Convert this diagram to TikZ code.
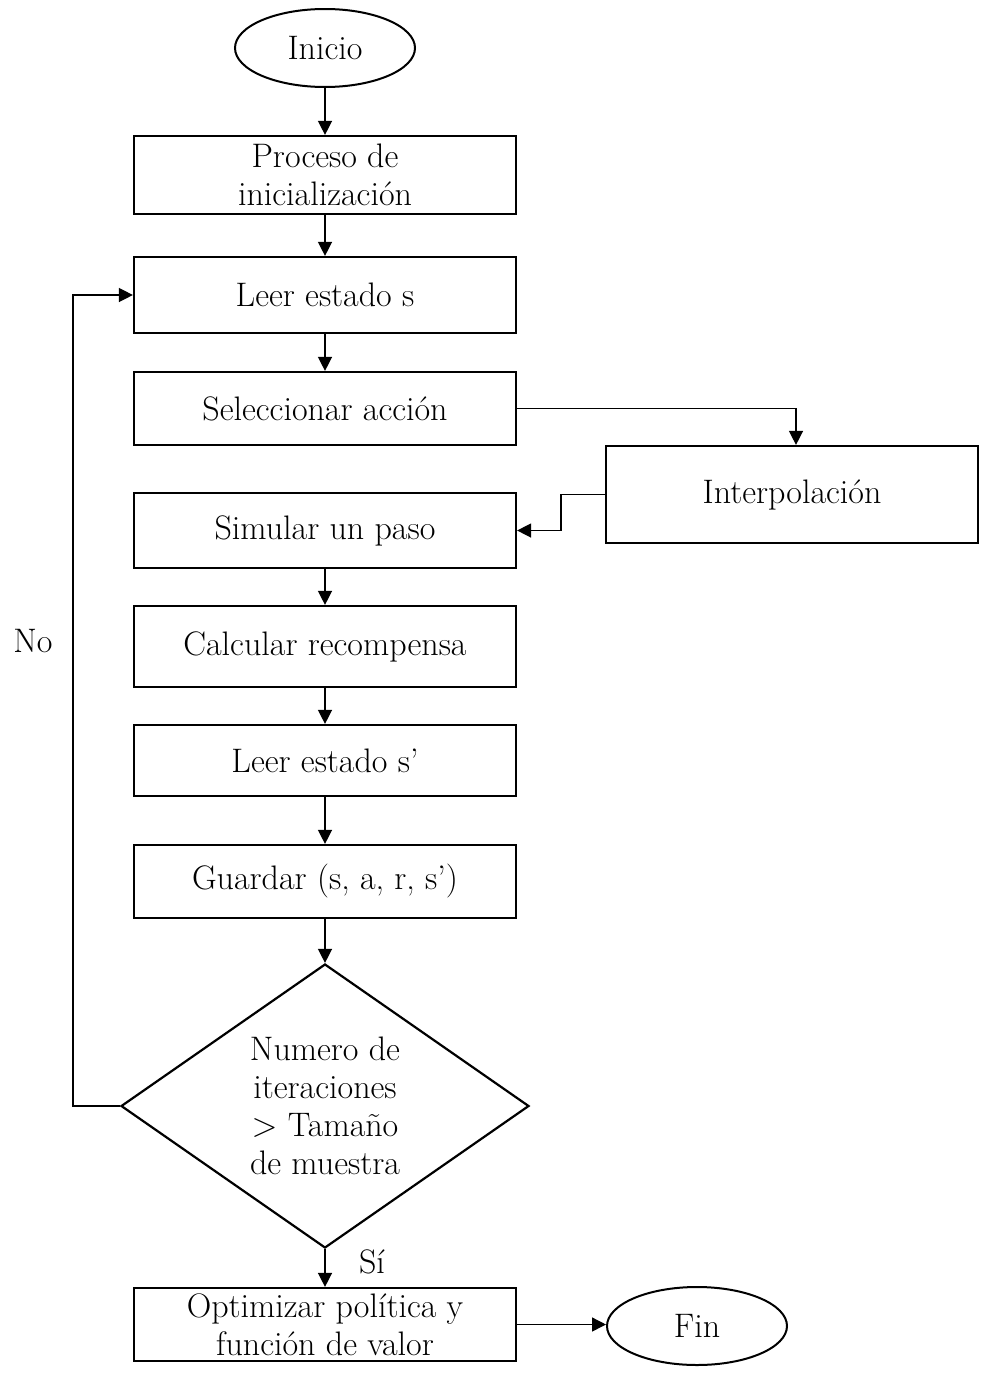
\documentclass[tikz,border=0pt]{standalone}
\usetikzlibrary{shapes.geometric,arrows.meta}
\begin{document}
\begin{tikzpicture}[x=1pt,y=-1pt,
  every node/.style={font=\fontsize{34}{38}\selectfont},
  proc/.style={draw, line width=2.2pt, minimum width=382pt, inner sep=0pt, align=center},
  term/.style={draw, ellipse, line width=2pt, minimum width=180pt, minimum height=78pt, inner sep=0pt},
  dec/.style={draw, diamond, line width=2.2pt, minimum width=408pt, minimum height=284pt,
    inner sep=0pt, shape aspect=1.44, align=center},
  flow/.style={line width=1.4pt, -{Triangle[length=14pt,width=14pt]}},
  lab/.style={inner sep=0pt}
]
\useasboundingbox (0,0) rectangle (980,1373);

% main column
\node[term] (start) at (325,48) {Inicio};
\node[proc, minimum height=78pt] (init) at (325,175) {Proceso de\\inicialización};
\node[proc, minimum height=76pt] (read) at (325,295) {Leer estado s};
\node[proc, minimum height=73pt] (sel) at (325,408.5) {Seleccionar acción};
\node[proc, minimum width=372pt, minimum height=97pt] (interp) at (792,494.5) {Interpolación};
\node[proc, minimum height=75pt] (sim) at (325,530.5) {Simular un paso};
\node[proc, minimum height=81pt] (calc) at (325,646.5) {Calcular recompensa};
\node[proc, minimum height=71pt] (next) at (325,760.5) {Leer estado s’};
\node[proc, minimum height=73pt] (save) at (325,881.5) {Guardar (s, a, r, s’)};
\node[dec] (check) at (325,1106) {Numero de\\iteraciones\\> Tamaño\\de muestra};
\node[proc, minimum height=73pt] (opt) at (325,1324.5) {Optimizar política y\\función de valor};
\node[term] (end) at (697,1326) {Fin};

% side branch entry point on top of the interpolation box
\coordinate (interpIn) at ([xshift=4pt]interp.north);

% connectors
\draw[flow] (start) -- (init);
\draw[flow] (init) -- (read);
\draw[flow] (read) -- (sel);
\draw[flow] (sel.east) -| (interpIn);
\draw[flow] (interp.west) -- ++(-44,0) |- (sim.east);
\draw[flow] (sim) -- (calc);
\draw[flow] (calc) -- (next);
\draw[flow] (next) -- (save);
\draw[flow] (save) -- (check);
\draw[flow] (check) -- (opt);
\draw[flow] (check.west) -- ++(-47,0) |- (read.west);
\draw[flow] (opt.east) -- (opt.east -| end.west);

% branch labels
\node[lab] (no) at (33,641) {No};
\node[lab] (yes) at (372,1262) {Sí};
\end{tikzpicture}
\end{document}
